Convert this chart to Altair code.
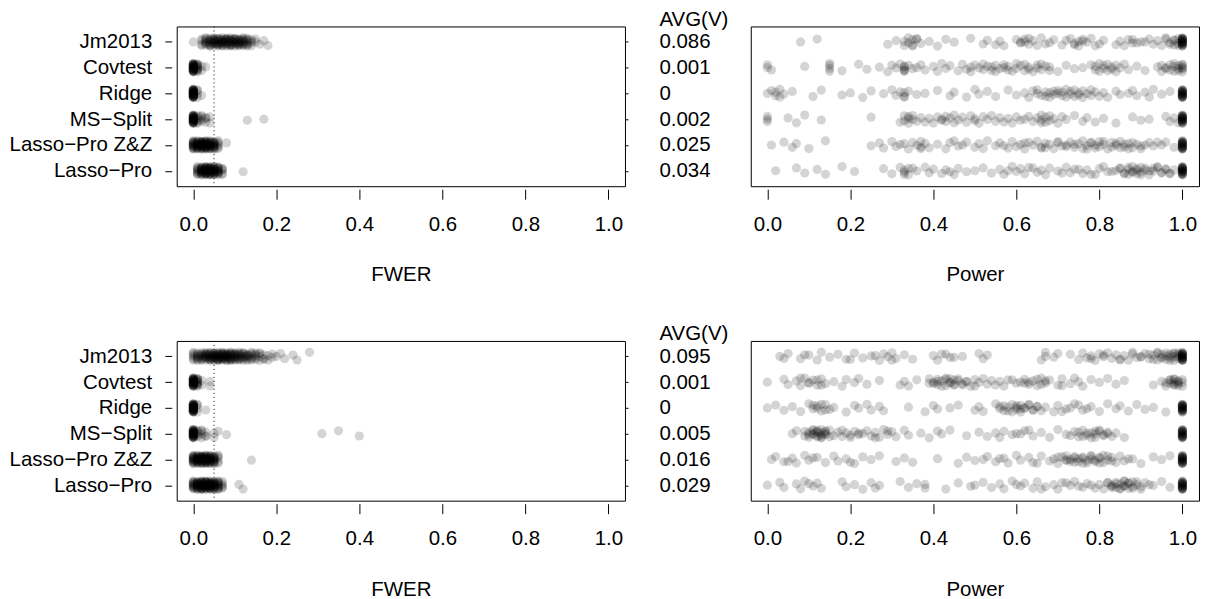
import altair as alt
import pandas as pd

# rows bottom (1) to top (6)
methods = ["Lasso−Pro", "Lasso−Pro Z&Z", "MS−Split", "Ridge", "Covtest", "Jm2013"]
avg_top = ["0.034", "0.025", "0.002", "0", "0.001", "0.086"]
avg_bot = ["0.029", "0.016", "0.005", "0", "0.001", "0.095"]
x_ticks = [0.0, 0.2, 0.4, 0.6, 0.8, 1.0]
fwer_level = [0.05]

# vertical jitter offsets (row units) cycled over the points of each row
jitter = [0.0, 0.11, -0.09, 0.05, -0.14, 0.16, -0.03, 0.08, -0.12, 0.13, -0.06, 0.02,
          -0.16, 0.10, -0.01, 0.14, -0.08, 0.06, -0.11, 0.03, -0.15, 0.09, -0.04]

# ---------------- FWER, top scenario (values, counts) ----------------
fw1_lp_v = [0.01, 0.02, 0.03, 0.04, 0.05, 0.06, 0.07, 0.12]
fw1_lp_n = [9, 15, 18, 18, 15, 11, 5, 1]
fw1_zz_v = [0.00, 0.01, 0.02, 0.03, 0.04, 0.05, 0.06, 0.08]
fw1_zz_n = [15, 15, 18, 18, 15, 12, 6, 1]
fw1_ms_v = [0.00, 0.01, 0.02, 0.03, 0.04, 0.13, 0.17]
fw1_ms_n = [30, 6, 4, 3, 2, 1, 1]
fw1_ri_v = [0.00, 0.01, 0.02]
fw1_ri_n = [35, 4, 1]
fw1_co_v = [0.00, 0.01, 0.02, 0.03]
fw1_co_n = [30, 10, 2, 1]
fw1_jm_v = [0.00, 0.02, 0.03, 0.04, 0.05, 0.06, 0.07, 0.08, 0.09, 0.10, 0.11, 0.12,
            0.13, 0.14, 0.15, 0.16, 0.17, 0.18]
fw1_jm_n = [1, 4, 7, 9, 10, 11, 11, 11, 11, 10, 10, 9, 7, 4, 2, 1, 1, 1]

# ---------------- FWER, bottom scenario ----------------
fw2_lp_v = [0.00, 0.01, 0.02, 0.03, 0.04, 0.05, 0.06, 0.07, 0.11, 0.12]
fw2_lp_n = [12, 15, 18, 18, 18, 15, 10, 5, 1, 1]
fw2_zz_v = [0.00, 0.01, 0.02, 0.03, 0.04, 0.05, 0.06, 0.14]
fw2_zz_n = [15, 15, 18, 18, 15, 12, 5, 1]
fw2_ms_v = [0.00, 0.01, 0.02, 0.03, 0.05, 0.06, 0.08, 0.31, 0.35, 0.40]
fw2_ms_n = [30, 5, 4, 3, 2, 1, 1, 1, 1, 1]
fw2_ri_v = [0.00, 0.01, 0.03]
fw2_ri_n = [35, 4, 1]
fw2_co_v = [0.00, 0.01, 0.02, 0.04]
fw2_co_n = [30, 10, 2, 2]
fw2_jm_v = [0.00, 0.01, 0.02, 0.03, 0.04, 0.05, 0.06, 0.07, 0.08, 0.09, 0.10, 0.11, 0.12,
            0.13, 0.14, 0.15, 0.16, 0.17, 0.18, 0.19, 0.20, 0.21, 0.22, 0.24, 0.25, 0.28]
fw2_jm_n = [6, 7, 8, 10, 11, 12, 13, 13, 13, 12, 10, 9, 8, 7, 6, 5, 4, 3, 2, 2, 1, 1, 1, 1, 1, 1]

# ---------------- Power, top scenario (values; plus count of exact 1.0) ----------------
pw1_lp = [0.02, 0.07, 0.09, 0.12, 0.14, 0.18, 0.21, 0.28, 0.30, 0.32, 0.33, 0.33, 0.34, 0.35, 0.36,
          0.38, 0.39, 0.40, 0.42, 0.43, 0.45, 0.46, 0.48, 0.50, 0.52, 0.54, 0.56, 0.57, 0.59, 0.60,
          0.61, 0.62, 0.63, 0.65, 0.66, 0.67, 0.68, 0.70, 0.72, 0.73, 0.74, 0.76, 0.77, 0.79, 0.80,
          0.82, 0.84, 0.85, 0.86, 0.87, 0.87, 0.88, 0.88, 0.89, 0.89, 0.90, 0.90, 0.91, 0.92, 0.93,
          0.93, 0.94, 0.95, 0.96, 0.97, 0.98,
          0.33, 0.34, 0.44, 0.58, 0.64, 0.71, 0.75, 0.78, 0.81, 0.83, 0.85, 0.86, 0.87, 0.88, 0.89,
          0.90, 0.91, 0.92, 0.94, 0.95, 0.96, 0.97]
pw1_zz = [0.01, 0.04, 0.06, 0.07, 0.10, 0.14, 0.25, 0.27, 0.28, 0.30, 0.31, 0.32, 0.34, 0.35, 0.36,
          0.37, 0.37, 0.38, 0.39, 0.41, 0.43, 0.44, 0.46, 0.47, 0.48, 0.50, 0.51, 0.52, 0.53, 0.55,
          0.56, 0.58, 0.59, 0.60, 0.61, 0.62, 0.63, 0.64, 0.65, 0.66, 0.67, 0.67, 0.68, 0.69, 0.70,
          0.71, 0.72, 0.73, 0.74, 0.75, 0.76, 0.76, 0.77, 0.78, 0.79, 0.80, 0.80, 0.81, 0.82, 0.83,
          0.84, 0.85, 0.86, 0.87, 0.88, 0.89, 0.90, 0.92, 0.93, 0.95, 0.96, 0.98,
          0.33, 0.37, 0.45, 0.57, 0.62, 0.66, 0.70, 0.72, 0.74, 0.77, 0.78, 0.79, 0.81, 0.83, 0.84,
          0.85, 0.86, 0.87, 0.88, 0.90, 0.91, 0.94]
pw1_ms = [0.0, 0.0, 0.0, 0.05, 0.07, 0.09, 0.13, 0.25, 0.32, 0.33, 0.33, 0.34, 0.34, 0.34, 0.35,
          0.35, 0.36, 0.37, 0.38, 0.39, 0.40, 0.41, 0.42, 0.42, 0.43, 0.43, 0.44, 0.45, 0.45, 0.46,
          0.47, 0.48, 0.49, 0.50, 0.50, 0.51, 0.52, 0.53, 0.54, 0.55, 0.56, 0.57, 0.58, 0.59, 0.60,
          0.61, 0.62, 0.63, 0.64, 0.65, 0.66, 0.66, 0.66, 0.67, 0.67, 0.68, 0.68, 0.69, 0.70, 0.71,
          0.72, 0.74, 0.76, 0.77, 0.79, 0.81, 0.84, 0.88, 0.90, 0.92, 0.96, 0.97, 0.98, 0.99]
pw1_ri = [0.0, 0.01, 0.02, 0.02, 0.03, 0.03, 0.04, 0.06, 0.11, 0.13, 0.18, 0.20, 0.23, 0.25, 0.28,
          0.30, 0.31, 0.32, 0.33, 0.33, 0.33, 0.34, 0.36, 0.38, 0.41, 0.44, 0.45, 0.48, 0.50, 0.51,
          0.53, 0.55, 0.58, 0.60, 0.62, 0.63, 0.64, 0.65, 0.65, 0.66, 0.67, 0.67, 0.68, 0.68, 0.69,
          0.69, 0.70, 0.70, 0.71, 0.71, 0.72, 0.72, 0.73, 0.73, 0.74, 0.74, 0.75, 0.75, 0.76, 0.76,
          0.77, 0.78, 0.78, 0.79, 0.80, 0.81, 0.82, 0.84, 0.85, 0.87, 0.88, 0.89, 0.91, 0.92, 0.93,
          0.95, 0.97]
pw1_co = [0.0, 0.0, 0.01, 0.09, 0.15, 0.15, 0.15, 0.15, 0.18, 0.22, 0.24, 0.27, 0.29, 0.30, 0.31,
          0.32, 0.33, 0.33, 0.33, 0.33, 0.33, 0.34, 0.35, 0.36, 0.37, 0.38, 0.40, 0.41, 0.42, 0.43,
          0.44, 0.46, 0.47, 0.48, 0.49, 0.49, 0.50, 0.51, 0.52, 0.52, 0.53, 0.54, 0.54, 0.55, 0.55,
          0.56, 0.57, 0.57, 0.58, 0.58, 0.59, 0.60, 0.60, 0.61, 0.62, 0.62, 0.63, 0.63, 0.64, 0.65,
          0.65, 0.66, 0.66, 0.67, 0.68, 0.68, 0.70, 0.72, 0.74, 0.76, 0.78, 0.79, 0.79, 0.80, 0.80,
          0.81, 0.81, 0.82, 0.82, 0.83, 0.83, 0.84, 0.84, 0.85, 0.86, 0.87, 0.89, 0.91, 0.94, 0.95,
          0.95, 0.96, 0.96, 0.97, 0.97, 0.98, 0.98, 0.98, 0.99, 0.99, 0.99]
pw1_jm = [0.08, 0.12, 0.29, 0.31, 0.33, 0.34, 0.34, 0.35, 0.35, 0.36, 0.37, 0.39, 0.41, 0.43, 0.45,
          0.49, 0.52, 0.53, 0.55, 0.56, 0.57, 0.60, 0.61, 0.62, 0.62, 0.63, 0.64, 0.65, 0.66, 0.68,
          0.69, 0.71, 0.73, 0.74, 0.75, 0.75, 0.76, 0.77, 0.78, 0.80, 0.81, 0.84, 0.85, 0.86, 0.87,
          0.89, 0.90, 0.92, 0.93, 0.94, 0.95, 0.96, 0.97, 0.98, 0.98, 0.99, 0.99,
          0.33, 0.35, 0.36, 0.61, 0.63, 0.67, 0.72, 0.74, 0.76, 0.79, 0.88, 0.88, 0.91, 0.96, 0.97,
          0.98, 0.99]
pw1_ones = [20, 20, 20, 20, 6, 20]

# ---------------- Power, bottom scenario ----------------
pw2_lp = [0.00, 0.03, 0.04, 0.07, 0.08, 0.09, 0.11, 0.12, 0.13, 0.18, 0.19, 0.21, 0.23, 0.25, 0.27,
          0.32, 0.34, 0.36, 0.38, 0.38, 0.43, 0.46, 0.49, 0.50, 0.52, 0.54, 0.56, 0.57, 0.59, 0.61,
          0.62, 0.64, 0.65, 0.67, 0.69, 0.70, 0.71, 0.73, 0.74, 0.76, 0.77, 0.79, 0.80, 0.81, 0.82,
          0.83, 0.83, 0.84, 0.84, 0.85, 0.85, 0.86, 0.86, 0.87, 0.87, 0.88, 0.88, 0.89, 0.90, 0.91,
          0.93, 0.95, 0.97,
          0.10, 0.26, 0.60, 0.66, 0.72, 0.75, 0.78, 0.82, 0.83, 0.84, 0.85, 0.86, 0.86, 0.87, 0.88,
          0.89, 0.90, 0.92]
pw2_zz = [0.01, 0.02, 0.04, 0.06, 0.07, 0.09, 0.10, 0.12, 0.14, 0.16, 0.17, 0.19, 0.21, 0.23, 0.25,
          0.27, 0.31, 0.33, 0.35, 0.41, 0.46, 0.48, 0.50, 0.52, 0.53, 0.55, 0.57, 0.58, 0.60, 0.61,
          0.63, 0.64, 0.66, 0.68, 0.69, 0.70, 0.71, 0.72, 0.72, 0.73, 0.74, 0.74, 0.75, 0.76, 0.76,
          0.77, 0.78, 0.78, 0.79, 0.80, 0.80, 0.81, 0.82, 0.83, 0.84, 0.85, 0.86, 0.88, 0.90, 0.93,
          0.95, 0.97,
          0.05, 0.11, 0.20, 0.56, 0.65, 0.70, 0.72, 0.73, 0.74, 0.75, 0.76, 0.77, 0.78, 0.79, 0.80,
          0.81, 0.82, 0.83, 0.87]
pw2_ms = [0.06, 0.07, 0.09, 0.10, 0.10, 0.11, 0.11, 0.12, 0.12, 0.12, 0.13, 0.13, 0.13, 0.14, 0.14,
          0.15, 0.16, 0.17, 0.18, 0.19, 0.20, 0.21, 0.22, 0.23, 0.24, 0.25, 0.26, 0.27, 0.28, 0.29,
          0.30, 0.31, 0.33, 0.34, 0.37, 0.39, 0.41, 0.42, 0.44, 0.48, 0.51, 0.53, 0.55, 0.56, 0.57,
          0.59, 0.60, 0.62, 0.64, 0.66, 0.68, 0.70, 0.72, 0.74, 0.75, 0.76, 0.77, 0.77, 0.78, 0.79,
          0.79, 0.80, 0.81, 0.82, 0.83, 0.84, 0.86,
          0.09, 0.10, 0.11, 0.11, 0.12, 0.12, 0.13, 0.13, 0.14, 0.14, 0.15, 0.18, 0.20, 0.22, 0.26,
          0.29, 0.61, 0.63, 0.73, 0.75, 0.76, 0.78, 0.79, 0.80, 0.81, 0.82]
pw2_ri = [0.00, 0.02, 0.04, 0.06, 0.08, 0.10, 0.11, 0.12, 0.13, 0.14, 0.15, 0.16, 0.19, 0.21, 0.22,
          0.24, 0.25, 0.27, 0.28, 0.34, 0.38, 0.40, 0.41, 0.44, 0.46, 0.50, 0.51, 0.52, 0.55, 0.56,
          0.57, 0.58, 0.59, 0.60, 0.60, 0.61, 0.61, 0.62, 0.63, 0.64, 0.65, 0.66, 0.67, 0.69, 0.70,
          0.72, 0.73, 0.75, 0.76, 0.78, 0.80, 0.82, 0.84, 0.85, 0.87, 0.89, 0.91, 0.93, 0.96,
          0.11, 0.12, 0.13, 0.14, 0.56, 0.57, 0.58, 0.59, 0.60, 0.61, 0.62, 0.63, 0.64, 0.65, 0.71,
          0.74, 0.77]
pw2_co = [0.00, 0.04, 0.05, 0.07, 0.08, 0.09, 0.10, 0.11, 0.12, 0.13, 0.14, 0.16, 0.18, 0.19, 0.21,
          0.22, 0.24, 0.27, 0.32, 0.33, 0.34, 0.36, 0.39, 0.40, 0.41, 0.41, 0.42, 0.43, 0.43, 0.44,
          0.45, 0.45, 0.46, 0.47, 0.48, 0.49, 0.50, 0.51, 0.52, 0.53, 0.54, 0.55, 0.56, 0.57, 0.58,
          0.60, 0.61, 0.62, 0.63, 0.64, 0.65, 0.66, 0.67, 0.68, 0.70, 0.71, 0.73, 0.75, 0.76, 0.78,
          0.80, 0.82, 0.84, 0.86, 0.93, 0.95, 0.96, 0.97, 0.97, 0.98, 0.98, 0.98, 0.99, 0.99,
          0.08, 0.10, 0.12, 0.13, 0.39, 0.40, 0.41, 0.42, 0.43, 0.44, 0.44, 0.45, 0.46, 0.47, 0.48,
          0.50, 0.59, 0.62, 0.63, 0.65, 0.66, 0.67, 0.71, 0.74, 0.96, 0.97, 0.98, 0.98, 0.99, 0.99]
pw2_jm = [0.03, 0.05, 0.08, 0.10, 0.12, 0.13, 0.15, 0.17, 0.20, 0.21, 0.23, 0.25, 0.27, 0.28, 0.29,
          0.30, 0.31, 0.33, 0.35, 0.40, 0.41, 0.43, 0.45, 0.47, 0.51, 0.52, 0.53, 0.66, 0.67, 0.69,
          0.73, 0.75, 0.76, 0.77, 0.78, 0.79, 0.80, 0.81, 0.82, 0.83, 0.84, 0.85, 0.86, 0.87, 0.88,
          0.89, 0.90, 0.91, 0.92, 0.93, 0.94, 0.94, 0.95, 0.95, 0.96, 0.96, 0.97, 0.97, 0.98, 0.98,
          0.99, 0.99,
          0.04, 0.09, 0.19, 0.26, 0.30, 0.42, 0.44, 0.67, 0.70, 0.78, 0.81, 0.85, 0.88, 0.90, 0.92,
          0.93, 0.94, 0.95, 0.96, 0.97, 0.97, 0.98, 0.98, 0.99, 0.99]
pw2_ones = [20, 20, 20, 20, 3, 20]

FONT = "Liberation Sans"
FS = 20.5
W, H = 449, 160
XDOM = [-0.04, 1.04]
YDOM = [0.4, 6.6]
PT_SIZE = 85
PT_ALPHA = 0.17


def rows_counts(vals_list, cnts_list):
    recs = []
    for r, (vals, cnts) in enumerate(zip(vals_list, cnts_list), start=1):
        k = 0
        for v, n in zip(vals, cnts):
            for _ in range(n):
                recs.append({"v": v, "y": r + jitter[k % len(jitter)]})
                k += 1
    return pd.DataFrame(recs)


def rows_power(vals_list, ones):
    recs = []
    for r, (vals, n1) in enumerate(zip(vals_list, ones), start=1):
        k = 0
        for v in list(vals) + [1.0] * n1:
            recs.append({"v": v, "y": r + jitter[k % len(jitter)]})
            k += 1
    return pd.DataFrame(recs)


def x_enc(title):
    return alt.X("v:Q", scale=alt.Scale(domain=XDOM, nice=False, zero=False),
                 axis=alt.Axis(values=x_ticks, format=".1f", title=title, domain=False,
                               tickSize=10, offset=3, labelPadding=15, titlePadding=30,
                               grid=False))


name_expr = "['', " + ", ".join("'" + m + "'" for m in methods) + "][datum.value]"


def fwer_panel(df):
    pts = alt.Chart(df).mark_circle(size=PT_SIZE, color="black", opacity=PT_ALPHA).encode(
        x=x_enc("FWER"),
        y=alt.Y("y:Q", scale=alt.Scale(domain=YDOM, nice=False, zero=False),
                axis=alt.Axis(values=[1, 2, 3, 4, 5, 6], labelExpr=name_expr, title=None,
                              domain=False, tickSize=7, offset=5, labelPadding=13, grid=False)))
    rule = alt.Chart(pd.DataFrame({"v": fwer_level})).mark_rule(
        color="black", strokeDash=[1, 3], strokeWidth=1).encode(x="v:Q")
    rt = alt.Chart(pd.DataFrame({"y": [1, 2, 3, 4, 5, 6]})).mark_point(opacity=0).encode(
        y=alt.Y("y:Q", scale=alt.Scale(domain=YDOM, nice=False, zero=False),
                axis=alt.Axis(orient="right", values=[1, 2, 3, 4, 5, 6], labels=False,
                              title=None, domain=False, tickSize=3, grid=False)))
    return alt.layer(pts, rule, rt).resolve_scale(y="independent").properties(width=W, height=H)


def power_panel(df, avgs):
    expr = "['', " + ", ".join("'" + a + "'" for a in avgs) + "][datum.value]"
    pts = alt.Chart(df).mark_circle(size=PT_SIZE, color="black", opacity=PT_ALPHA).encode(
        x=x_enc("Power"),
        y=alt.Y("y:Q", scale=alt.Scale(domain=YDOM, nice=False, zero=False),
                axis=alt.Axis(values=[1, 2, 3, 4, 5, 6], labelExpr=expr, ticks=False, tickSize=0,
                              domain=False, labelAlign="left", labelPadding=92, grid=False,
                              title="AVG(V)", titleAngle=0, titleAlign="left", titleX=-92,
                              titleY=-7, titleBaseline="middle")))
    return pts.properties(width=W, height=H)


fw1 = fwer_panel(rows_counts([fw1_lp_v, fw1_zz_v, fw1_ms_v, fw1_ri_v, fw1_co_v, fw1_jm_v],
                             [fw1_lp_n, fw1_zz_n, fw1_ms_n, fw1_ri_n, fw1_co_n, fw1_jm_n]))
fw2 = fwer_panel(rows_counts([fw2_lp_v, fw2_zz_v, fw2_ms_v, fw2_ri_v, fw2_co_v, fw2_jm_v],
                             [fw2_lp_n, fw2_zz_n, fw2_ms_n, fw2_ri_n, fw2_co_n, fw2_jm_n]))
pw1 = power_panel(rows_power([pw1_lp, pw1_zz, pw1_ms, pw1_ri, pw1_co, pw1_jm], pw1_ones), avg_top)
pw2 = power_panel(rows_power([pw2_lp, pw2_zz, pw2_ms, pw2_ri, pw2_co, pw2_jm], pw2_ones), avg_bot)

chart = alt.concat(fw1, pw1, fw2, pw2, columns=2, spacing={"row": 155, "column": 126},
                   bounds="flush").properties(
    padding={"left": 0, "top": 0, "right": 0, "bottom": 0},
    background="white"
).configure_view(stroke="black", strokeWidth=1).configure_axis(
    labelFont=FONT, labelFontSize=FS, titleFont=FONT, titleFontSize=FS,
    titleFontWeight="normal", labelColor="black", titleColor="black", tickColor="black",
    tickWidth=1
)

chart.save("out.html", embed_options={"renderer": "svg", "actions": False})
